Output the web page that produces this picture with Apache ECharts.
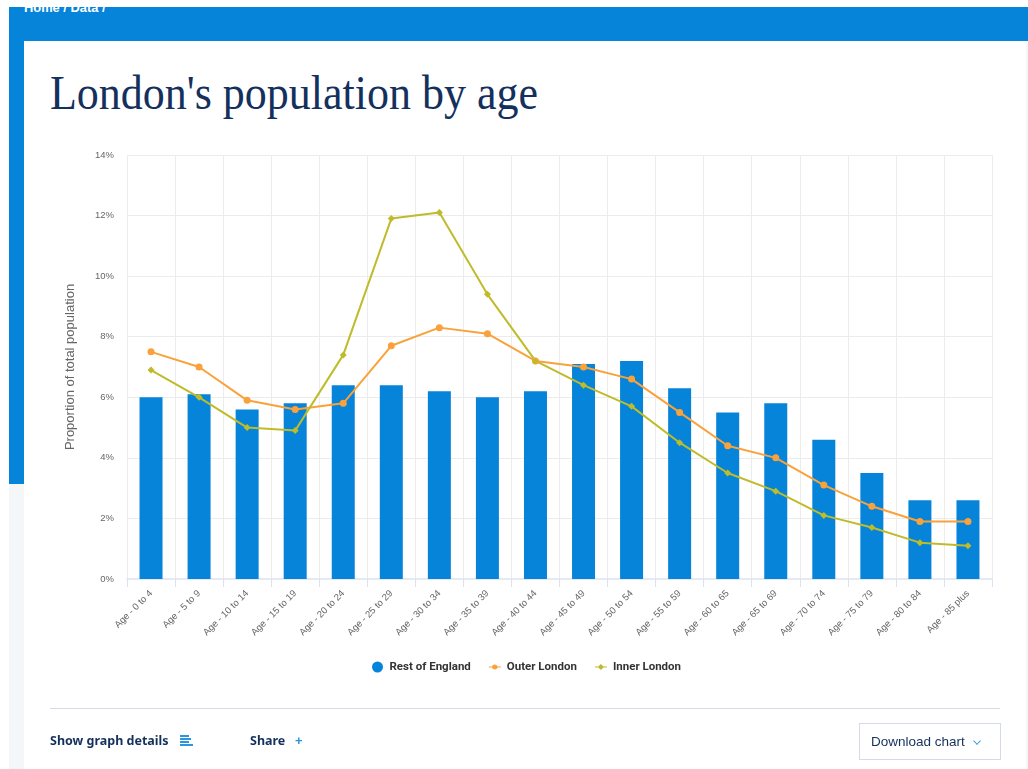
<!DOCTYPE html>
<html><head><meta charset="utf-8">
<style>
html,body{margin:0;padding:0;background:#fff;width:1028px;height:769px;overflow:hidden;font-family:"Liberation Sans",Arial,sans-serif}
.a{position:absolute}
</style>
<script src="https://cdn.jsdelivr.net/npm/echarts@6/dist/echarts.min.js"></script>
</head><body>
<div class="a" style="left:9px;top:7px;width:1019px;height:477px;background:#0584da"></div>
<div class="a" style="left:9px;top:484px;width:15px;height:285px;background:#f5f6f8"></div>
<div class="a" style="left:24px;top:41px;width:1002px;height:728px;background:#fff"></div>
<div class="a" style="left:1026px;top:41px;width:2px;height:728px;background:#f5f6f8"></div>
<div class="a" style="left:24px;top:7px;height:9px;width:200px;overflow:hidden"><div style="margin-top:-6px;color:#fff;font-size:12.5px;font-weight:bold;line-height:14px;transform:scaleX(1.03);transform-origin:left">Home / Data /</div></div>
<div class="a" style="left:50px;top:64px;color:#14305c;font-family:'Liberation Serif',serif;font-size:47.5px;line-height:58px;white-space:nowrap;transform:scaleX(.926);transform-origin:left">London's population by age</div>
<div id="c" class="a" style="left:0;top:0;width:1028px;height:769px"></div>
<div class="a" style="left:50px;top:708px;width:950px;height:1px;background:#d5dbe6"></div>
<div class="a" style="left:50px;top:733px;color:#14305c;font-size:12.5px;font-weight:bold;font-family:'Noto Sans',sans-serif;line-height:16px;white-space:nowrap">Show graph details</div>
<div class="a" style="left:180px;top:735px;width:9px;height:2px;background:#2b95e0"></div>
<div class="a" style="left:180px;top:738px;width:11px;height:2px;background:#2b95e0"></div>
<div class="a" style="left:180px;top:741px;width:9px;height:2px;background:#2b95e0"></div>
<div class="a" style="left:180px;top:744px;width:13px;height:2px;background:#2b95e0"></div>
<div class="a" style="left:250px;top:733px;color:#14305c;font-size:12.5px;font-weight:bold;font-family:'Noto Sans',sans-serif;line-height:16px">Share</div>
<div class="a" style="left:295px;top:733px;color:#2b95e0;font-size:13px;font-weight:bold;line-height:16px">+</div>
<div class="a" style="left:859px;top:723px;width:140px;height:35px;border:1px solid #d5dbe6"></div>
<div class="a" style="left:871px;top:733px;color:#14305c;font-size:13.5px;line-height:18px;white-space:nowrap">Download chart</div>
<div class="a" style="left:974px;top:738px;width:5px;height:5px;border-right:1.5px solid #2b95e0;border-bottom:1.5px solid #2b95e0;transform:rotate(45deg) scale(.9)"></div>
<script>
const categories=["Age - 0 to 4","Age - 5 to 9","Age - 10 to 14","Age - 15 to 19","Age - 20 to 24","Age - 25 to 29","Age - 30 to 34","Age - 35 to 39","Age - 40 to 44","Age - 45 to 49","Age - 50 to 54","Age - 55 to 59","Age - 60 to 65","Age - 65 to 69","Age - 70 to 74","Age - 75 to 79","Age - 80 to 84","Age - 85 plus"];
const restOfEngland=[6.0,6.1,5.6,5.8,6.4,6.4,6.2,6.0,6.2,7.1,7.2,6.3,5.5,5.8,4.6,3.5,2.6,2.6];
const outerLondon=[7.5,7.0,5.9,5.6,5.8,7.7,8.3,8.1,7.2,7.0,6.6,5.5,4.4,4.0,3.1,2.4,1.9,1.9];
const innerLondon=[6.9,6.0,5.0,4.9,7.4,11.9,12.1,9.4,7.2,6.4,5.7,4.5,3.5,2.9,2.1,1.7,1.2,1.1];
const chart=echarts.init(document.getElementById('c'),null,{renderer:'canvas'});
chart.setOption({
  animation:false,
  textStyle:{fontFamily:'"Liberation Sans",Arial,sans-serif'},
  grid:{left:127,right:36,top:155,bottom:190,containLabel:false,show:false},
  legend:{left:367,top:656,itemGap:18,itemWidth:12,itemHeight:11,
    textStyle:{color:'#333',fontSize:11.5,fontWeight:'bold',fontFamily:'Roboto,sans-serif',padding:[0,0,0,1]},
    data:[{name:'Rest of England',icon:'circle'},
      {name:'Outer London',icon:'path://M0 4.6H3.2A3 3 0 0 1 8.8 4.6H12V5.8H8.8A3 3 0 0 1 3.2 5.8H0Z'},
      {name:'Inner London',icon:'path://M0 4.6H3.4L6 2L8.6 4.6H12V5.6H8.6L6 8.2L3.4 5.6H0Z'}]},
  xAxis:{type:'category',data:categories,boundaryGap:true,
    axisLine:{show:true,lineStyle:{color:'#e3e9f6',width:2}},
    axisTick:{show:true,alignWithLabel:false,length:8,lineStyle:{color:'#dbe2f2',width:1}},
    splitLine:{show:true,lineStyle:{color:'#ececec',width:1}},
    axisLabel:{rotate:45,color:'#666',fontSize:9.5,margin:13,interval:0}},
  yAxis:{type:'value',min:0,max:14,interval:2,
    name:'Proportion of total population',nameLocation:'middle',nameGap:50,
    nameTextStyle:{color:'#666',fontSize:13},
    axisLine:{show:false},axisTick:{show:false},
    splitLine:{lineStyle:{color:'#ececec',width:1}},
    axisLabel:{color:'#666',fontSize:9.5,margin:13,padding:[3,0,0,0],formatter:'{value}%'}},
  series:[
    {name:'Rest of England',type:'bar',data:restOfEngland,barWidth:23,itemStyle:{color:'#0584da'}},
    {name:'Outer London',type:'line',data:outerLondon,symbol:'circle',symbolSize:7,showSymbol:true,
      lineStyle:{color:'#f9a23c',width:2},itemStyle:{color:'#f9a23c'}},
    {name:'Inner London',type:'line',data:innerLondon,symbol:'diamond',symbolSize:7,showSymbol:true,
      lineStyle:{color:'#bfbb2a',width:2},itemStyle:{color:'#bfbb2a'}}
  ]
});
</script>
</body></html>
